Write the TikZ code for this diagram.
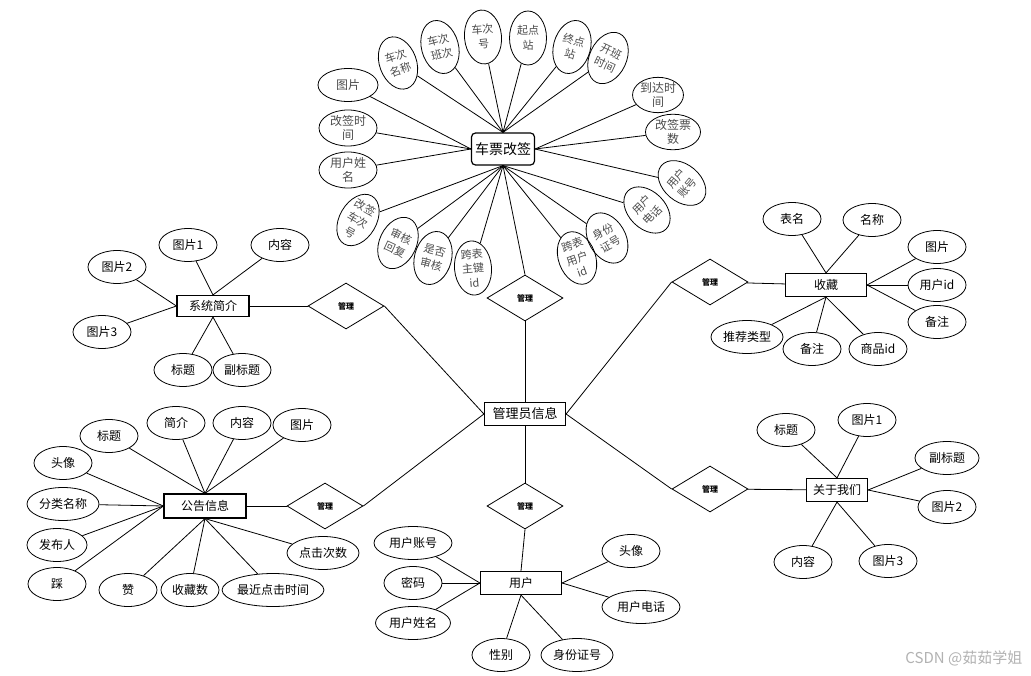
\documentclass[tikz,border=0pt]{standalone}
\usepackage{fontspec}
\setmainfont{Noto Sans CJK SC}
\usetikzlibrary{shapes.geometric}

\begin{document}
\begin{tikzpicture}[x=1pt, y=-1pt, line width=0.8pt,
    every node/.style={align=center, font=\fontsize{12}{14}\selectfont},
    attr/.style={draw, ellipse, minimum width=58pt, minimum height=33pt, inner sep=0pt},
    tattr/.style={draw, ellipse, minimum width=37pt, minimum height=54pt, inner sep=0pt, text=black!70, font=\fontsize{11}{14.5}\selectfont},
    entity/.style={draw, line width=1.2pt, minimum width=81pt, minimum height=23pt, inner sep=0pt},
    rel/.style={draw, diamond, minimum width=76pt, minimum height=46pt, inner sep=0pt, font=\fontsize{8}{9}\selectfont\bfseries}]
    \path[use as bounding box, fill=white] (0,0) rectangle (1031,676);

    % centre
    \node[entity, font=\fontsize{13}{15}\selectfont] (admin) at (525,414) {管理员信息};

    % 车票改签
    \node[entity, rounded corners=4pt, minimum width=63pt, minimum height=32pt, font=\fontsize{14}{16}\selectfont] (cpgq) at (503,149) {车票改签};
    \node[tattr, rotate=20] (ccmc) at (398,63) {车次\\名称};
    \node[tattr, rotate=15] (ccbc) at (440,47) {车次\\班次};
    \node[tattr, rotate=5] (cch) at (483,37) {车次\\号};
    \node[tattr] (qdz) at (528,38) {起点\\站};
    \node[tattr, rotate=-15] (zdz) at (572,47) {终点\\站};
    \node[tattr, rotate=-25] (kbsj) at (608,58) {开班\\时间};
    \node[attr, minimum width=60pt, text=black!70] (tp0) at (348,85) {图片};
    \node[attr, minimum height=36pt, text=black!70] (gqsj) at (348,128) {改签时\\间};
    \node[attr, minimum height=36pt, text=black!70] (yhxm0) at (348,170) {用户姓\\名};
    \node[attr, minimum width=46pt, minimum height=35pt, text=black!70] (ddsj) at (658,95) {到达时\\间};
    \node[attr, minimum width=55pt, minimum height=35pt, text=black!70] (gqps) at (673,132) {改签票\\数};
    \node[tattr, rotate=-30] (gqcch) at (358,220) {改签\\车次\\号};
    \node[tattr, rotate=-25] (shhf) at (398,243) {审核\\回复};
    \node[tattr, rotate=-15] (sfsh) at (433,258) {是否\\审核};
    \node[tattr, rotate=5] (kbzj) at (473,268) {跨表\\主键\\id};
    \node[tattr, rotate=20] (kbyh) at (577,258) {跨表\\用户\\id};
    \node[tattr, rotate=30] (sfzh0) at (607,238) {身份\\证号};
    \node[tattr, rotate=45] (yhdh0) at (647,210) {用户\\电话};
    \node[tattr, rotate=50] (yhzh0) at (682,183) {用户\\账号};
    \foreach \a in {ccmc,ccbc,cch,qdz,zdz,kbsj}
        \draw (\a) -- (cpgq.north);
    \foreach \a in {tp0,gqsj,yhxm0}
        \draw (\a) -- (cpgq.west);
    \foreach \a in {ddsj,gqps,yhzh0}
        \draw (\a) -- (cpgq.east);
    \foreach \a in {gqcch,shhf,sfsh,kbzj,kbyh,sfzh0,yhdh0}
        \draw (\a) -- (cpgq.south);
    \node[rel] (gl1) at (525,298) {管理};
    \draw (cpgq.south) -- (gl1.north);
    \draw (gl1) -- (admin);

    % 系统简介
    \node[entity, minimum width=72pt, minimum height=21pt] (xtjj) at (213,306) {系统简介};
    \node[attr] (xtp1) at (188,245) {图片1};
    \node[attr] (xnr) at (280,245) {内容};
    \node[attr] (xtp2) at (117,267) {图片2};
    \node[attr] (xtp3) at (102,332) {图片3};
    \node[attr] (xbt) at (183,370) {标题};
    \node[attr] (xfbt) at (242,370) {副标题};
    \foreach \a in {xtp1,xnr}
        \draw (\a) -- (xtjj.north);
    \foreach \a in {xtp2,xtp3}
        \draw (\a) -- (xtjj.west);
    \foreach \a in {xbt,xfbt}
        \draw (\a) -- (xtjj.south);
    \node[rel] (gl2) at (346,306) {管理};
    \draw (xtjj) -- (gl2);
    \draw (gl2.east) -- (admin.west);

    % 公告信息
    \node[entity, minimum width=82pt, minimum height=24pt] (ggxx) at (205,506) {公告信息};
    \node[attr] (gbt) at (109,436) {标题};
    \node[attr] (gjj) at (176,423) {简介};
    \node[attr] (gnr) at (242,423) {内容};
    \node[attr] (gtp) at (302,425) {图片};
    \node[attr] (gtx) at (63,463) {头像};
    \node[attr, minimum width=72pt] (gflmc) at (63,504) {分类名称};
    \node[attr, minimum width=60pt] (gfbr) at (57,545) {发布人};
    \node[attr] (gc) at (57,584) {踩};
    \node[attr] (gz) at (128,590) {赞};
    \node[attr] (gscs) at (190,590) {收藏数};
    \node[attr, minimum width=95pt] (gzjdj) at (273,590) {最近点击时间};
    \node[attr, minimum width=72pt] (gdjcs) at (323,553) {点击次数};
    \foreach \a in {gbt,gjj,gnr,gtp}
        \draw (\a) -- (ggxx.north);
    \foreach \a in {gtx,gflmc,gfbr,gc}
        \draw (\a) -- (ggxx.west);
    \foreach \a in {gz,gscs,gzjdj,gdjcs}
        \draw (\a) -- (ggxx.south);
    \node[rel] (gl3) at (325,506) {管理};
    \draw (ggxx) -- (gl3);
    \draw (gl3.east) -- (admin.west);

    % 收藏
    \node[entity] (sc) at (826,285) {收藏};
    \node[attr] (sbm) at (792,219) {表名};
    \node[attr] (smc) at (872,220) {名称};
    \node[attr] (stp) at (937,247) {图片};
    \node[attr] (syhid) at (937,285) {用户id};
    \node[attr] (sbz1) at (937,322) {备注};
    \node[attr, minimum width=72pt] (stjlx) at (747,337) {推荐类型};
    \node[attr] (sbz2) at (812,349) {备注};
    \node[attr] (sspid) at (878,349) {商品id};
    \foreach \a in {sbm,smc}
        \draw (\a) -- (sc.north);
    \foreach \a in {stp,syhid,sbz1}
        \draw (\a) -- (sc.east);
    \foreach \a in {stjlx,sbz2,sspid}
        \draw (\a) -- (sc.south);
    \node[rel] (gl4) at (710,282) {管理};
    \draw (gl4) -- (sc);
    \draw (gl4.west) -- (admin.east);

    % 关于我们
    \node[entity, minimum width=61pt] (gywm) at (837,490) {关于我们};
    \node[attr] (abt) at (786,430) {标题};
    \node[attr] (atp1) at (867,420) {图片1};
    \node[attr, minimum width=64pt] (afbt) at (947,458) {副标题};
    \node[attr] (atp2) at (947,507) {图片2};
    \node[attr] (anr) at (803,562) {内容};
    \node[attr] (atp3) at (888,561) {图片3};
    \foreach \a in {abt,atp1}
        \draw (\a) -- (gywm.north);
    \foreach \a in {afbt,atp2}
        \draw (\a) -- (gywm.east);
    \foreach \a in {anr,atp3}
        \draw (\a) -- (gywm.south);
    \node[rel] (gl5) at (710,489) {管理};
    \draw (gl5) -- (gywm);
    \draw (gl5.west) -- (admin.east);

    % 用户
    \node[entity] (yh) at (521,583) {用户};
    \node[attr, minimum width=78pt] (uzh) at (413,543) {用户账号};
    \node[attr] (umm) at (413,583) {密码};
    \node[attr, minimum width=75pt] (uxm) at (413,623) {用户姓名};
    \node[attr] (utx) at (631,551) {头像};
    \node[attr, minimum width=78pt] (udh) at (641,607) {用户电话};
    \node[attr] (uxb) at (501,655) {性别};
    \node[attr, minimum width=72pt] (usfz) at (577,655) {身份证号};
    \foreach \a in {uzh,umm,uxm}
        \draw (\a) -- (yh.west);
    \foreach \a in {utx,udh}
        \draw (\a) -- (yh.east);
    \foreach \a in {uxb,usfz}
        \draw (\a) -- (yh.south);
    \node[rel] (gl6) at (525,506) {管理};
    \draw (admin) -- (gl6);
    \draw (gl6.south) -- (yh.north);

    \node[text=black!30, font=\fontsize{15}{17}\selectfont, anchor=east] (wm) at (1026,658) {CSDN @茹茹学姐};
\end{tikzpicture}
\end{document}
